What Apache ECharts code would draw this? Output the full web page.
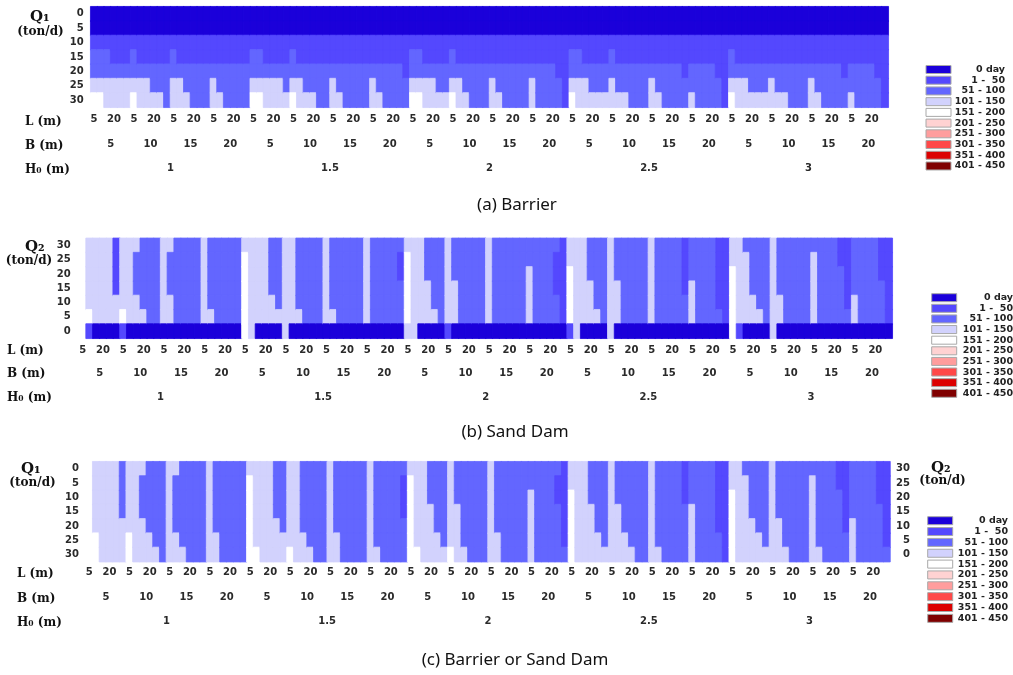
<!DOCTYPE html>
<html><head><meta charset="utf-8">
<script src="https://cdn.jsdelivr.net/npm/echarts@6/dist/echarts.min.js"></script>
<style>html,body{margin:0;padding:0;background:#fff}#c{width:1013px;height:675px}</style>
</head><body><div id="c"></div>
<script>
// ---------- axis categories ----------
const H0_VALUES = ['1', '1.5', '2', '2.5', '3'];
const B_VALUES = ['5', '10', '15', '20'];
const L_VALUES = ['5', '10', '15', '20', '25', '30'];
const Q1_LABELS = ['0', '5', '10', '15', '20', '25', '30'];   // top -> bottom
const Q2_LABELS = ['30', '25', '20', '15', '10', '5', '0'];   // top -> bottom

// ---------- duration classes (legend) ----------
const CLASS_LABELS = ['0 day', '1 -  50', '51 - 100', '101 - 150', '151 - 200',
  '201 - 250', '251 - 300', '301 - 350', '351 - 400', '401 - 450'];
const CLASS_MIN = [0, 1, 51, 101, 151, 201, 251, 301, 351, 401];
const CLASS_MAX = [0, 50, 100, 150, 200, 250, 300, 350, 400, 450];
// representative day value of class codes 0..4 used in the cells
const CLASS_DAYS = [0, 25, 75, 125, 175];

// ---------- cell classes: one string per column (H0 > B > L), chars = rows top -> bottom ----------
// (a) Barrier, rows Q1 = 0..30
const barrierCols = [
  '0012234','0012234','0012233','0011233','0011233','0011233', '0012234','0011233','0011233','0011223','0011223','0011222',
  '0012233','0011233','0011223','0011222','0011222','0011222', '0011233','0011223','0011222','0011222','0011222','0011222',
  '0012234','0012234','0011233','0011233','0011233','0011223', '0012234','0011233','0011223','0011223','0011222','0011222',
  '0011233','0011223','0011222','0011222','0011222','0011222', '0011233','0011223','0011222','0011222','0011222','0011122',
  '0012234','0012234','0011233','0011233','0011223','0011223', '0012234','0011233','0011223','0011222','0011222','0011222',
  '0011233','0011223','0011222','0011222','0011222','0011222', '0011233','0011222','0011222','0011222','0011122','0011111',
  '0012234','0012233','0011233','0011223','0011223','0011223', '0012233','0011223','0011223','0011222','0011222','0011222',
  '0011233','0011223','0011222','0011222','0011222','0011122', '0011223','0011222','0011222','0011222','0011122','0011111',
  '0012234','0011233','0011233','0011223','0011223','0011223', '0011233','0011223','0011223','0011222','0011222','0011222',
  '0011233','0011223','0011222','0011222','0011222','0011122', '0011223','0011222','0011222','0011222','0011122','0011111'
];
// (b) Sand Dam, rows Q2 = 30..0
const sandDamCols = [
  '4444444','3333341','3333330','3333330','3333330','1111330', '3333341','3333330','3222330','2222230','2222220','2222220',
  '3333330','3222330','2222220','2222220','2222220','2222220', '3333330','2222230','2222220','2222220','2222220','2222220',
  '3444444','3333333','3333330','3333330','2222330','2222230', '3333333','3333330','2222230','2222220','2222220','2222220',
  '3333330','2222230','2222220','2222220','2222220','2222220', '3333330','2222220','2222220','2222220','2222220','2112220',
  '3444443','3333333','3333330','2223330','2222230','2222220', '3333331','2223330','2222220','2222220','2222220','2222220',
  '3333330','2222220','2222220','2222220','2222220','2222220', '2233330','2222220','2222220','2222220','2111220','1111110',
  '3344441','3333333','3333330','2223330','2222230','2222220', '3333333','2223330','2222220','2222220','2222220','2222220',
  '3333330','2222220','2222220','2222220','2222220','1111220', '2223330','2222220','2222220','2222220','1111120','1111110',
  '3344444','3333331','2333330','2222330','2222230','2222220', '3333333','2222330','2222220','2222220','2222220','2222220',
  '2333330','2222220','2222220','2222220','1122220','1111120', '2222330','2222220','2222220','2222220','1112220','1111110'
];
// (c) Barrier or Sand Dam, rows Q1 = 0..30 (Q2 = 30..0)
const eitherCols = [
  '4444444','3333344','3333333','3333333','3333333','2222333', '3333344','3333333','3222333','2222233','2222223','2222222',
  '3333333','3222233','2222223','2222222','2222222','2222222', '3333333','2222233','2222222','2222222','2222222','2222222',
  '3444444','3333334','3333333','3333333','2222333','2222233', '3333334','3333333','2222233','2222223','2222222','2222222',
  '3333333','2222233','2222222','2222222','2222222','2222222', '3333333','2222223','2222222','2222222','2222222','2111222',
  '3444444','3333334','3333333','2223333','2222233','2222223', '3333334','2223333','2222223','2222222','2222222','2222222',
  '3333333','2222233','2222222','2222222','2222222','2222222', '2233333','2222222','2222222','2222222','2112222','1111112',
  '3344444','3333333','3333333','2223333','2222233','2222223', '3333333','2223333','2222233','2222223','2222222','2222222',
  '3333333','2222223','2222222','2222222','2222222','1112222', '2223333','2222222','2222222','2222222','1111122','1111111',
  '3344444','3333333','2333333','2222333','2222233','2222223', '3333333','2222333','2222223','2222222','2222222','2222222',
  '2333333','2222223','2222222','2222222','1122222','1111122', '2222333','2222222','2222222','2222222','1112222','1111112'
];

// ---------- styles ----------
const CLASS_COLORS = ['#1b00da', '#5448fe', '#6366ff', '#d2d2fd', '#ffffff',
  '#ffd2d2', '#ff9d9d', '#ff4848', '#dc0000', '#7f0000'];
const TICK_FONT = 'DejaVu Sans';
const SERIF = 'DejaVu Serif';

const Lcats = [], Bcats = [];
H0_VALUES.forEach(() => B_VALUES.forEach(b => { Bcats.push(b); L_VALUES.forEach(l => Lcats.push(l)); }));

function cells(cols) {
  const out = [];
  cols.forEach((s, c) => {
    for (let r = 0; r < s.length; r++) {
      const code = +s[r];
      // a hairline border in the cell's own colour hides anti-aliasing seams
      out.push({ value: [c, r, CLASS_DAYS[code]], itemStyle: { borderColor: CLASS_COLORS[code], borderWidth: 0.8 } });
    }
  });
  return out;
}

const panels = [
  { grid: { left: 90.7, top: 6.7, width: 797.6, height: 100.6 }, ylab: Q1_LABELS, cols: barrierCols,
    tL: 23, offB: 23, tB: 24, offH: 47, tH: 24, mL: 7, mB: 9, mH: 9, yTick: 24, yMargin: 7 },
  { grid: { left: 79.3, top: 238.3, width: 813, height: 100 }, ylab: Q2_LABELS, cols: sandDamCols,
    tL: 22, offB: 22, tB: 25, offH: 47, tH: 22, mL: 7, mB: 8, mH: 7, yTick: 28, yMargin: 8.6 },
  { grid: { left: 86, top: 461.7, width: 804, height: 100 }, ylab: Q1_LABELS, cols: eitherCols,
    tL: 21, offB: 21, tB: 25, offH: 46, tH: 24, mL: 6, mB: 10, mH: 9, yTick: 30, yMargin: 7 }
];

const labelStyle = { fontFamily: TICK_FONT, fontWeight: 'bold', fontSize: 10, color: '#2a2a2a' };
const grids = [], xAxes = [], yAxes = [], series = [];
panels.forEach((p, i) => {
  grids.push(Object.assign({ containLabel: false }, p.grid));
  xAxes.push({ type: 'category', gridIndex: i, data: Lcats, position: 'bottom',
    axisLine: { show: false }, axisTick: { interval: 0, length: p.tL, lineStyle: { color: '#c9c9c9' } },
    axisLabel: Object.assign({ interval: 2, margin: p.mL }, labelStyle), splitLine: { show: false } });
  xAxes.push({ type: 'category', gridIndex: i, data: Bcats, position: 'bottom', offset: p.offB,
    axisLine: { show: false }, axisTick: { interval: 0, length: p.tB, lineStyle: { color: '#b9b9b9' } },
    axisLabel: Object.assign({ interval: 0, margin: p.mB }, labelStyle), splitLine: { show: false } });
  xAxes.push({ type: 'category', gridIndex: i, data: H0_VALUES, position: 'bottom', offset: p.offH,
    axisLine: { show: false }, axisTick: { interval: 0, length: p.tH, lineStyle: { color: '#b9b9b9' } },
    axisLabel: Object.assign({ interval: 0, margin: p.mH }, labelStyle), splitLine: { show: false } });
  yAxes.push({ type: 'category', gridIndex: i, data: p.ylab, inverse: true, position: 'left',
    axisLine: { show: false }, axisTick: { interval: 0, length: p.yTick, lineStyle: { color: '#c9c9c9' } },
    axisLabel: Object.assign({ interval: 0, margin: p.yMargin }, labelStyle), splitLine: { show: false } });
  series.push({ type: 'heatmap', xAxisIndex: i * 3, yAxisIndex: i, data: cells(p.cols),
    emphasis: { disabled: true }, progressive: 0, animation: false });
});
// right-hand Q2 axis of panel (c)
yAxes.push({ type: 'category', gridIndex: 2, data: Q2_LABELS, inverse: true, position: 'right',
  axisLine: { show: false }, axisTick: { interval: 0, length: 28, lineStyle: { color: '#c9c9c9' } },
  axisLabel: Object.assign({ interval: 0, margin: 20, align: 'right' }, labelStyle), splitLine: { show: false } });

// ---------- texts and legends ----------
const graphic = [];
function txt(x, y, text, font, align, fill) {
  graphic.push({ type: 'text', x: x, y: y, silent: true,
    style: { text: text, font: font, textAlign: align || 'left', textVerticalAlign: 'middle', fill: fill || '#111' } });
}
const axisTitleFont = 'bold 12px ' + SERIF;
const qFont = 'bold 15px ' + SERIF;
// panel a
txt(30, 17, 'Q₁', qFont); txt(40.5, 32, '(ton/d)', axisTitleFont, 'center');
txt(25, 122, 'L (m)', axisTitleFont); txt(25, 146, 'B (m)', axisTitleFont); txt(25, 170, 'H₀ (m)', axisTitleFont);
// panel b
txt(25, 247, 'Q₂', qFont); txt(29, 261, '(ton/d)', axisTitleFont, 'center');
txt(7, 351, 'L (m)', axisTitleFont); txt(7, 374, 'B (m)', axisTitleFont); txt(7, 398, 'H₀ (m)', axisTitleFont);
// panel c
txt(21, 469, 'Q₁', qFont); txt(32.5, 483, '(ton/d)', axisTitleFont, 'center');
txt(17, 574, 'L (m)', axisTitleFont); txt(17, 599, 'B (m)', axisTitleFont); txt(17, 623, 'H₀ (m)', axisTitleFont);
txt(931, 468, 'Q₂', qFont); txt(942.5, 481, '(ton/d)', axisTitleFont, 'center');

function legend(bx, y0, step, textRight) {
  CLASS_LABELS.forEach((lab, k) => {
    const cy = y0 + step * k;
    graphic.push({ type: 'rect', silent: true, shape: { x: bx, y: cy - 4, width: 25, height: 8 },
      style: { fill: CLASS_COLORS[k], stroke: '#a8a8a8', lineWidth: 1 } });
    txt(textRight, cy, lab, 'bold 9.5px ' + TICK_FONT, 'right', '#222');
  });
}
legend(926, 69.5, 10.72, 1005);
legend(931.7, 297.7, 10.62, 1013);
legend(927.7, 520.7, 10.85, 1008);

const pieces = CLASS_MIN.map((mn, k) => ({ min: mn, max: CLASS_MAX[k], color: CLASS_COLORS[k], label: CLASS_LABELS[k] }));

const captionStyle = { fontFamily: 'Noto Sans', fontSize: 17, fontWeight: 'normal', color: '#111' };
const option = {
  animation: false,
  backgroundColor: '#fff',
  title: [
    { text: '(a) Barrier', left: 517, top: 197, textAlign: 'center', padding: 0, textStyle: captionStyle },
    { text: '(b) Sand Dam', left: 515, top: 424, textAlign: 'center', padding: 0, textStyle: captionStyle },
    { text: '(c) Barrier or Sand Dam', left: 515, top: 652, textAlign: 'center', padding: 0, textStyle: captionStyle }
  ],
  grid: grids,
  xAxis: xAxes,
  yAxis: yAxes,
  visualMap: { type: 'piecewise', show: false, pieces: pieces, seriesIndex: [0, 1, 2] },
  series: series,
  graphic: graphic
};
const chart = echarts.init(document.getElementById('c'), null, { renderer: 'canvas' });
chart.setOption(option);
</script></body></html>
